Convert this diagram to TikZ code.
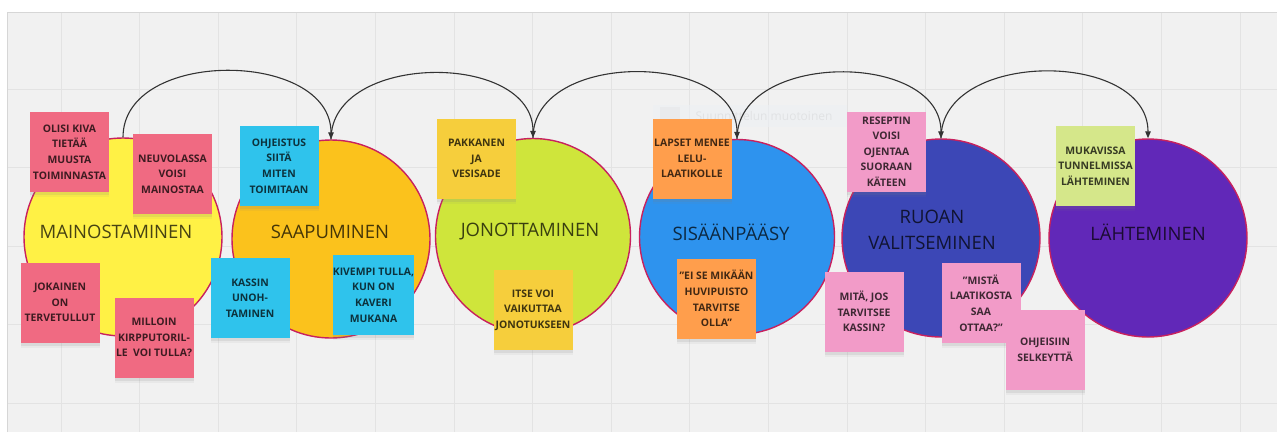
\documentclass[tikz,border=0pt]{standalone}
\usepackage{fontspec}
\setmainfont{Open Sans}
\usetikzlibrary{arrows.meta,shadows}

% board and grid
\definecolor{boardbg}{HTML}{F1F1F1}
\definecolor{gridcol}{HTML}{E3E3E3}
\definecolor{boardrim}{HTML}{D6D6D6}
\definecolor{hintbg}{HTML}{ECF0F4}
% stage circles
\definecolor{rim}{HTML}{C8215E}
\definecolor{stA}{HTML}{FFF145}
\definecolor{stB}{HTML}{FBC21C}
\definecolor{stC}{HTML}{CFE53B}
\definecolor{stD}{HTML}{2E93EE}
\definecolor{stE}{HTML}{3C47B6}
\definecolor{stF}{HTML}{6128B8}
% sticky notes
\definecolor{ntRed}{HTML}{F06A82}
\definecolor{ntCyan}{HTML}{2FC3EC}
\definecolor{ntYellow}{HTML}{F6CE3C}
\definecolor{ntOrange}{HTML}{FF9E4C}
\definecolor{ntPink}{HTML}{F29BC8}
\definecolor{ntLime}{HTML}{D5E78A}
\definecolor{flowcol}{HTML}{333333}

\begin{document}
\begin{tikzpicture}[x=1pt,y=-1pt,
  stage/.style={circle,draw=rim,line width=1.4pt,inner sep=0pt,minimum size=#1},
  stagelabel/.style={text=black,text opacity=0.72,font=\fontsize{18.5}{26}\selectfont,align=center,inner sep=0pt},
  flow/.style={draw=flowcol,line width=1.1pt,-{Triangle[width=5.5pt,length=7pt]},looseness=1.1},
  note/.style={fill=#1,rectangle,minimum width=79pt,minimum height=80pt,inner sep=0pt,
    align=center,text=black,text opacity=0.74,font=\bfseries\fontsize{10.4}{15.6}\selectfont,
    drop shadow={shadow xshift=0pt,shadow yshift=-5pt,xscale=0.9,opacity=0.08},
    drop shadow={shadow xshift=0pt,shadow yshift=-3pt,xscale=0.95,opacity=0.14}},
  ghost/.style={fill=hintbg,fill opacity=0.6,inner sep=0pt,text=gray,text opacity=0.12,
    font=\fontsize{12}{14}\selectfont,minimum width=194pt,minimum height=22pt}
]
\useasboundingbox (0,0) rectangle (1277,432);
\fill[white] (0,0) rectangle (1277,432);

% whiteboard with its grid
\fill[boardbg] (7,12) rectangle (1277,432);
\foreach \i in {0,...,15} \draw[gridcol,line width=0.8pt] (61+78.6*\i,12) -- (61+78.6*\i,432);
\foreach \j in {0,...,4} \draw[gridcol,line width=0.8pt] (7,89+78.6*\j) -- (1277,89+78.6*\j);
\draw[boardrim,line width=1pt] (7,432) -- (7,12) -- (1277,12);

% faint leftover frame on the board
\node[ghost] (hint) at (750,116) {\hspace*{28pt}Suunnittelun muotoinen};
\fill[gray!25,opacity=0.3] (660,107) rectangle (680,125);

% stages
\node[stage=198pt,fill=stA] (c1) at (123,237) {};
\node[stage=198pt,fill=stB] (c2) at (331,239) {};
\node[stage=195pt,fill=stC] (c3) at (533,236) {};
\node[stage=195pt,fill=stD] (c4) at (737,237) {};
\node[stage=198pt,fill=stE] (c5) at (941,238) {};
\node[stage=198pt,fill=stF] (c6) at (1148,238) {};

\node[stagelabel] (l1) at (116,232) {MAINOSTAMINEN};
\node[stagelabel] (l2) at (330,232) {SAAPUMINEN};
\node[stagelabel] (l3) at (530,232) {JONOTTAMINEN};
\node[stagelabel] (l4) at (731,232) {SISÄÄNPÄÄSY};
\node[stagelabel] (l5) at (932,230) {RUOAN\\VALITSEMINEN};
\node[stagelabel] (l6) at (1148,232) {LÄHTEMINEN};

% flow between stages
\draw[flow] (c1.north) to[out=90,in=90] (c2.north);
\draw[flow] (c2.north) to[out=90,in=90] (c3.north);
\draw[flow] (c3.north) to[out=90,in=90] (c4.north);
\draw[flow] (c4.north) to[out=90,in=90] (c5.north);
\draw[flow] (c5.north) to[out=90,in=90] (c6.north);

% notes: advertising
\node[note=ntRed] (n1) at (69.5,152) {OLISI KIVA\\TIETÄÄ\\MUUSTA\\TOIMINNASTA};
\node[note=ntRed] (n2) at (172.5,174) {NEUVOLASSA\\VOISI\\MAINOSTAA};
\node[note=ntRed] (n3) at (60,302.5) {JOKAINEN\\ON\\TERVETULLUT};
\node[note=ntRed] (n4) at (154,337.5) {MILLOIN\\KIRPPUTORIL-\\LE\ \ VOI TULLA?};

% notes: arriving
\node[note=ntCyan] (n5) at (279,166) {OHJEISTUS\\SIITÄ\\MITEN\\TOIMITAAN};
\node[note=ntCyan] (n6) at (250,298) {KASSIN\\UNOH-\\TAMINEN};
\node[note=ntCyan] (n7) at (373.5,295) {KIVEMPI TULLA,\\KUN ON\\KAVERI\\MUKANA};

% notes: queueing
\node[note=ntYellow] (n8) at (476.5,158.5) {PAKKANEN\\JA\\VESISADE};
\node[note=ntYellow] (n9) at (533,310) {ITSE VOI\\VAIKUTTAA\\JONOTUKSEEN};

% notes: entering
\node[note=ntOrange] (n10) at (692,158.5) {LAPSET MENEE\\LELU-\\LAATIKOLLE};
\node[note=ntOrange] (n11) at (716.5,298.5) {"EI SE MIKÄÄN\\HUVIPUISTO\\TARVITSE\\OLLA"};

% notes: choosing food
\node[note=ntPink] (n12) at (886.5,151.5) {RESEPTIN\\VOISI\\OJENTAA\\SUORAAN\\KÄTEEN};
\node[note=ntPink] (n13) at (864,311.5) {MITÄ, JOS\\TARVITSEE\\KASSIN?};
\node[note=ntPink] (n14) at (981,303) {"MISTÄ\\LAATIKOSTA\\SAA\\OTTAA?"};
\node[note=ntPink] (n15) at (1045,350) {OHJEISIIN\\SELKEYTTÄ};

% notes: leaving
\node[note=ntLime] (n16) at (1095.5,166) {MUKAVISSA\\TUNNELMISSA\\LÄHTEMINEN};
\end{tikzpicture}
\end{document}
